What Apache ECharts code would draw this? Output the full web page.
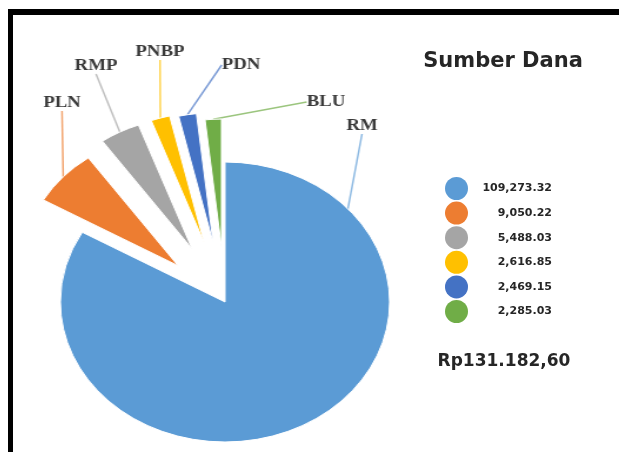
<!DOCTYPE html>
<html>
<head>
<meta charset="utf-8">
<script src="https://cdn.jsdelivr.net/npm/echarts@6/dist/echarts.min.js"></script>
<style>
  html, body { margin: 0; padding: 0; background: #fff; }
  #wrap { position: relative; width: 619px; height: 452px; overflow: hidden; background: #fff; }
  #pie { position: absolute; left: 0; top: 0; width: 619px; height: 452px;
         transform-origin: 225px 302px; transform: scaleX(1.176); }
  #over { position: absolute; left: 0; top: 0; width: 619px; height: 452px; }
  #frame { position: absolute; left: 8px; top: 9px; width: 620px; height: 460px;
           border-top: 6px solid #000; border-left: 5px solid #000; pointer-events: none; box-sizing: border-box; }
</style>
</head>
<body>
<div id="wrap">
  <div id="pie"></div>
  <div id="over"></div>
  <div id="frame"></div>
</div>
<script>
// ---- data ----
const categories = ['RM', 'PLN', 'RMP', 'PNBP', 'PDN', 'BLU'];
const values = [109273.32, 9050.22, 5488.03, 2616.85, 2469.15, 2285.03];
const chartTitle = 'Sumber Dana';
const currency = 'Rp';

// ---- styling / layout ----
const palette = ['#5B9BD5', '#ED7D31', '#A5A5A5', '#FFC000', '#4472C4', '#70AD47'];
const explode = [0, 54, 60, 62, 60, 55];           // slice explosion (px)
const radii = [140, 132, 132, 130, 130, 128];      // slice outer radius (px)
const SX = 1.176, CX = 225, CY = 302;
// on-screen label centers (layout only)
const labelAnchors = [[362, 126], [62, 103], [96, 66], [160, 52], [241, 65], [326, 102]];
const toPieX = x => CX + (x - CX) / SX;

function fmtEn(v) {
  return v.toLocaleString('en-US', { minimumFractionDigits: 2, maximumFractionDigits: 2 });
}
function fmtId(v) {
  return fmtEn(v).replace(/,/g, '#').replace(/\./g, ',').replace(/#/g, '.');
}
const total = values.reduce((a, b) => a + b, 0);

// mid angle of each slice (clockwise from 12 o'clock)
let acc = 0;
const midAngles = values.map(v => { const m = (acc + v / 2) / total * 2 * Math.PI; acc += v; return m; });

const pieSeries = categories.map((cat, i) => ({
  type: 'pie',
  name: cat,
  center: [CX + explode[i] * Math.sin(midAngles[i]), CY - explode[i] * Math.cos(midAngles[i])],
  radius: radii[i],
  startAngle: 90,
  clockwise: true,
  avoidLabelOverlap: false,
  emphasis: { disabled: true },
  silent: true,
  label: {
    position: 'outside',
    fontFamily: 'Liberation Serif', fontWeight: 'bold', fontSize: 16, color: '#3a3a3a',
    formatter: '{b}'
  },
  labelLine: { length: 0, length2: 0, smooth: false, lineStyle: { width: 1.5, opacity: 0.7 } },
  labelLayout: function (p) {
    if (p.dataIndex !== i) return {};
    const a = labelAnchors[i];
    return { x: toPieX(a[0]), y: a[1], align: 'center', verticalAlign: 'middle' };
  },
  data: categories.map((c, j) => ({
    name: c,
    value: values[j],
    itemStyle: j === i ? { color: palette[j], borderColor: '#ffffff', borderWidth: 1 }
                       : { color: 'rgba(0,0,0,0)', borderWidth: 0 },
    label: { show: j === i },
    labelLine: { show: j === i }
  }))
}));

const pieChart = echarts.init(document.getElementById('pie'), null, { renderer: 'canvas' });
pieChart.setOption({ animation: false, series: pieSeries });

const over = echarts.init(document.getElementById('over'), null, { renderer: 'canvas' });
over.setOption({
  animation: false,
  color: palette,
  legend: {
    orient: 'vertical',
    left: 445, top: 177, padding: 0,
    itemWidth: 23, itemHeight: 25, itemGap: 1.6,
    icon: 'circle',
    selectedMode: false,
    data: categories,
    formatter: function (name) {
      return '{v|' + fmtEn(values[categories.indexOf(name)]) + '}';
    },
    textStyle: {
      rich: {
        v: { width: 79, align: 'right', fontFamily: 'DejaVu Sans', fontWeight: 'bold', fontSize: 11, color: '#262626' }
      }
    }
  },
  series: [{
    type: 'pie', center: [-60, -60], radius: 0, silent: true,
    label: { show: false }, labelLine: { show: false },
    itemStyle: { borderWidth: 0 },
    data: categories.map((c, i) => ({ name: c, value: values[i] }))
  }],
  graphic: [
    { type: 'text', x: 503, y: 62, style: { text: chartTitle, fill: '#262626',
      font: 'bold 21px "DejaVu Sans"', align: 'center', verticalAlign: 'middle' } },
    { type: 'text', x: 504, y: 362, style: { text: currency + fmtId(total), fill: '#262626',
      font: 'bold 17px "DejaVu Sans"', align: 'center', verticalAlign: 'middle' } }
  ]
});
</script>
</body>
</html>
